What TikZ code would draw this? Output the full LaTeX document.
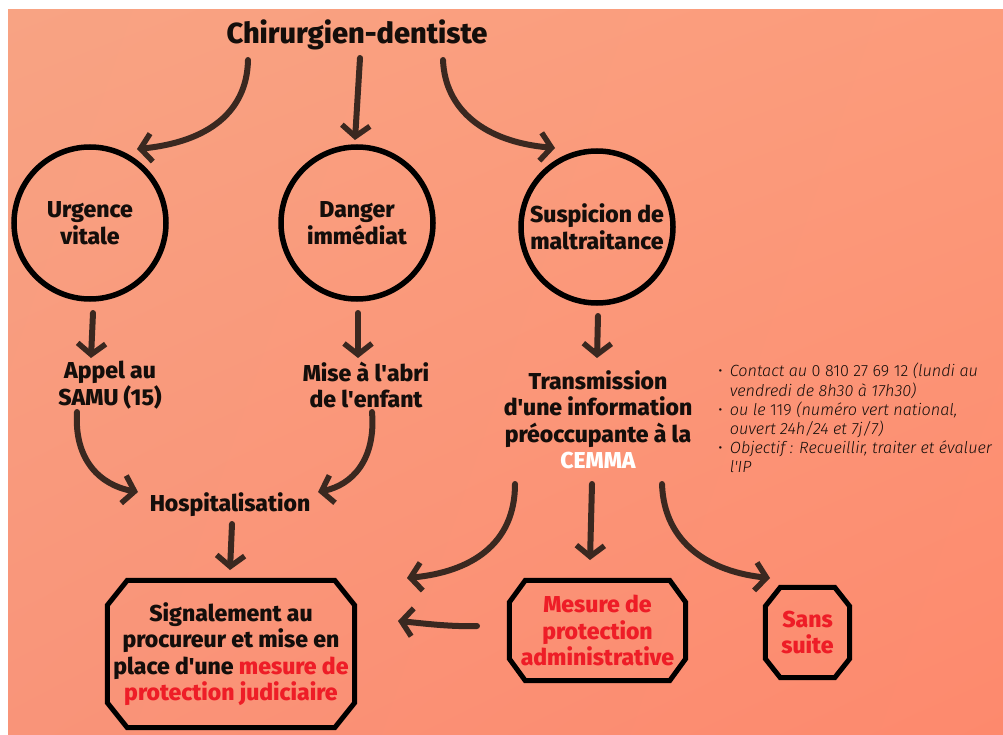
\documentclass[tikz,border=0pt]{standalone}
\usepackage{fontspec}
\setmainfont{Fira Sans}
\IfFontExistsTF{Fira Sans ExtraBold}{\newfontfamily\hvyfam{Fira Sans ExtraBold}\newcommand\hv{\hvyfam}}{\newcommand\hv{\bfseries}}
\IfFontExistsTF{Fira Sans Light}{\newfontfamily\litfam{Fira Sans Light}\newcommand\lite{\litfam}}{\newcommand\lite{}}
\newcommand\ap{\textquotesingle}
\usetikzlibrary{arrows.meta,shadings}
\definecolor{arrc}{HTML}{3A2820}
\definecolor{redt}{HTML}{EE1D27}
\definecolor{inkc}{HTML}{140E0B}
\definecolor{bgTL}{HTML}{F8A383}
\definecolor{bgTR}{HTML}{FC9B7B}
\definecolor{bgBL}{HTML}{F99479}
\definecolor{bgBR}{HTML}{FD896D}
\newcommand\drawoct[3]{%
  \draw[octline] ([xshift=#2]#1.north west) -- ([xshift=-#2]#1.north east)
    -- ([yshift=-#3]#1.north east) -- ([yshift=#3]#1.south east)
    -- ([xshift=-#2]#1.south east) -- ([xshift=#2]#1.south west)
    -- ([yshift=#3]#1.south west) -- ([yshift=-#3]#1.north west) -- cycle;}
\begin{document}
\begin{tikzpicture}[x=1pt,y=-1pt,
  lbl/.style={font=\hv\fontsize{23}{26.5}\selectfont, align=center, text=inkc, inner sep=0pt},
  titlelbl/.style={font=\hv\fontsize{29}{34}\selectfont, text=inkc, inner sep=0pt},
  circ/.style={lbl, circle, draw=black, line width=5.5pt, minimum size=152pt},
  octbox/.style={lbl, rectangle, inner sep=0pt},
  octline/.style={draw=black, line width=5pt, line join=miter},
  arr/.style={draw=arrc, line width=6pt, line cap=round,
    -{Straight Barb[length=11pt,width=28pt,line width=5.5pt]}},
  infotext/.style={font=\lite\fontsize{16.2}{18.9}\selectfont, text=inkc, anchor=north west, inner sep=0pt}
]
\useasboundingbox (0,0) rectangle (1003,735);
\fill[white] (0,0) rectangle (1003,735);
\shade[upper left=bgTL, upper right=bgTR, lower left=bgBL, lower right=bgBR] (8,10) rectangle (1003,735);

% nodes
\node[titlelbl] (title) at (357,35) {Chirurgien-dentiste};
\node[circ] (urg) at (90,223) {Urgence\\vitale};
\node[circ] (dang) at (357,223) {Danger\\immédiat};
\node[circ] (susp) at (597,227) {Suspicion de\\maltraitance};
\node[lbl] (samu) at (110,385) {Appel au\\SAMU (15)};
\node[lbl] (abri) at (366,385) {Mise à l\ap abri\\de l\ap enfant};
\node[lbl] (hosp) at (230,505) {Hospitalisation};
\node[lbl] (trans) at (598,420) {Transmission\\d\ap une information\\préoccupante à la\\\textcolor{white}{CEMMA}};
\node[octbox, minimum width=247pt, minimum height=147pt] (sig) at (231,654)
  {Signalement au\\procureur et mise en\\place d\ap une \textcolor{redt}{mesure de}\\\textcolor{redt}{protection judiciaire}};
\node[octbox, text=redt, minimum width=176pt, minimum height=100pt] (adm) at (597.5,630.5)
  {Mesure de\\protection\\administrative};
\node[octbox, text=redt, minimum width=84pt, minimum height=90pt] (sans) at (807.5,632.5)
  {Sans\\suite};
\drawoct{sig}{20pt}{25pt}
\drawoct{adm}{16pt}{22pt}
\drawoct{sans}{15pt}{19pt}

\node[infotext] (info) at (718,363) {%
  \begin{tabular}{@{}l@{\hspace{7pt}}l@{}}
  \textbullet & \textit{Contact au} 0 810 27 69 12 \textit{(lundi au}\\
   & \textit{vendredi de 8h30 à 17h30)}\\
  \textbullet & \textit{ou le} 119 \textit{(numéro vert national,}\\
   & \textit{ouvert 24h/24 et 7j/7)}\\
  \textbullet & \textit{Objectif : Recueillir, traiter et évaluer}\\
   & \textit{l\ap IP}
  \end{tabular}};

% connector end points
\coordinate (t1) at (248,60);   \coordinate (urgH) at (137,149);
\coordinate (t2) at (360,58);   \coordinate (dangH) at (355,140);
\coordinate (t3) at (443,60);   \coordinate (suspH) at (555,148);
\coordinate (urgB) at (93,313); \coordinate (samuH) at (91,358);
\coordinate (dangB) at (358,313); \coordinate (abriH) at (358,358);
\coordinate (suspB) at (598,316); \coordinate (transH) at (597,358);
\coordinate (samuB) at (77,412); \coordinate (hospL) at (138,492);
\coordinate (abriB) at (372,412); \coordinate (hospR) at (318,492);
\coordinate (hospB) at (232,524); \coordinate (sigH) at (230,570);
\coordinate (transB1) at (515,484); \coordinate (sigH2) at (407,578);
\coordinate (transB2) at (592,484); \coordinate (admH) at (590,560);
\coordinate (transB3) at (662,484); \coordinate (sansH) at (770,578);
\coordinate (admL) at (477,626); \coordinate (sigH3) at (398,621);

% connectors
\draw[arr] (t1) .. controls (247,112) and (208,142) .. (urgH);
\draw[arr] (t2) -- (dangH);
\draw[arr] (t3) .. controls (445,110) and (485,142) .. (suspH);
\draw[arr] (urgB) -- (samuH);
\draw[arr] (dangB) -- (abriH);
\draw[arr] (suspB) -- (transH);
\draw[arr] (samuB) .. controls (74,460) and (100,485) .. (hospL);
\draw[arr] (abriB) .. controls (376,460) and (352,485) .. (hospR);
\draw[arr] (hospB) -- (sigH);
\draw[arr] (transB1) .. controls (515,545) and (470,572) .. (sigH2);
\draw[arr] (transB2) -- (admH);
\draw[arr] (transB3) .. controls (664,545) and (712,572) .. (sansH);
\draw[arr] (admL) .. controls (450,627) and (420,623) .. (sigH3);
\end{tikzpicture}
\end{document}
